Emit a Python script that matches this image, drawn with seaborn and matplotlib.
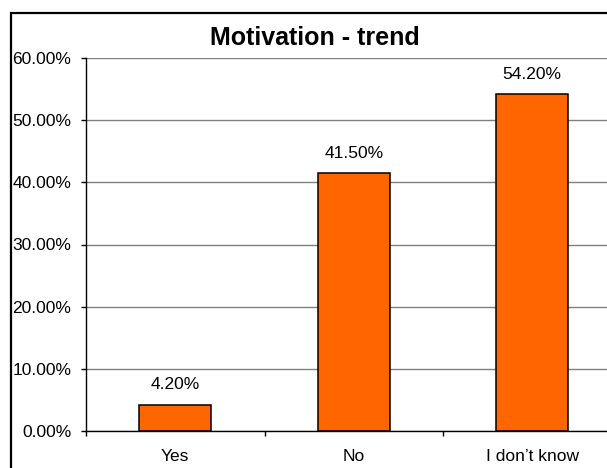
import matplotlib
matplotlib.use("Agg")
import matplotlib.pyplot as plt
import seaborn as sns
from matplotlib.patches import Rectangle
from matplotlib.ticker import FixedLocator

# Chart data
categories = ["Yes", "No", "I don\u2019t know"]
shares = [0.042, 0.415, 0.542]
y_ticks = [0.0, 0.1, 0.2, 0.3, 0.4, 0.5, 0.6]

sns.set_style("white")
plt.rcParams["font.family"] = ["Liberation Sans", "DejaVu Sans"]
plt.rcParams["text.color"] = "black"
plt.rcParams["xtick.color"] = "black"
plt.rcParams["ytick.color"] = "black"
plt.rcParams["axes.labelcolor"] = "black"

W, H = 607, 468
fig = plt.figure(figsize=(W / 100, H / 100), dpi=100)
# plot area runs past the right edge of the picture, like the cropped original
ax = fig.add_axes([86 / W, (H - 430.7) / H, 535.5 / W, 372.4 / H])

sns.barplot(x=categories, y=shares, color="#FF6600", edgecolor="black",
            linewidth=1.1, width=0.404, saturation=1, ax=ax)

ax.set_xlim(-0.5, 2.5)
ax.set_ylim(0, 0.6)
ax.set_yticks(y_ticks)
ax.set_yticklabels([f"{t:.2%}" for t in y_ticks], fontsize=12.5)
ax.yaxis.grid(True, color="#808080", linewidth=1.0)
ax.set_axisbelow(True)

# category labels centred, tick marks between categories
ax.set_xticks(range(len(categories)))
ax.set_xticklabels(categories, fontsize=12.5)
ax.xaxis.set_minor_locator(FixedLocator([-0.5, 0.5, 1.5, 2.5]))
ax.tick_params(axis="x", which="major", length=0, pad=13.5)
ax.tick_params(axis="x", which="minor", length=3.5, width=1, color="black",
               direction="out", bottom=True)
ax.tick_params(axis="y", length=3.5, width=1, color="black", direction="out",
               left=True, pad=7)
ax.set_xlabel("")
ax.set_ylabel("")

for side in ["top", "right"]:
    ax.spines[side].set_visible(False)
for side in ["left", "bottom"]:
    ax.spines[side].set_color("black")
    ax.spines[side].set_linewidth(1.0)

ax.bar_label(ax.containers[0], labels=[f"{v:.2%}" for v in shares],
             padding=9, fontsize=12.5, color="black")

fig.text(315 / W, 1 - 45 / H, "Motivation - trend", ha="center",
         va="baseline", fontsize=18, fontweight="bold", color="black")

# outer chart border (cut off on the right and bottom)
fig.patches.append(Rectangle((10.5 / W, -0.2), (620 - 10.5) / W,
                             1.2 - 12.7 / H, transform=fig.transFigure,
                             fill=False, edgecolor="black", linewidth=1.6))

fig.savefig("out.png", dpi=100)
